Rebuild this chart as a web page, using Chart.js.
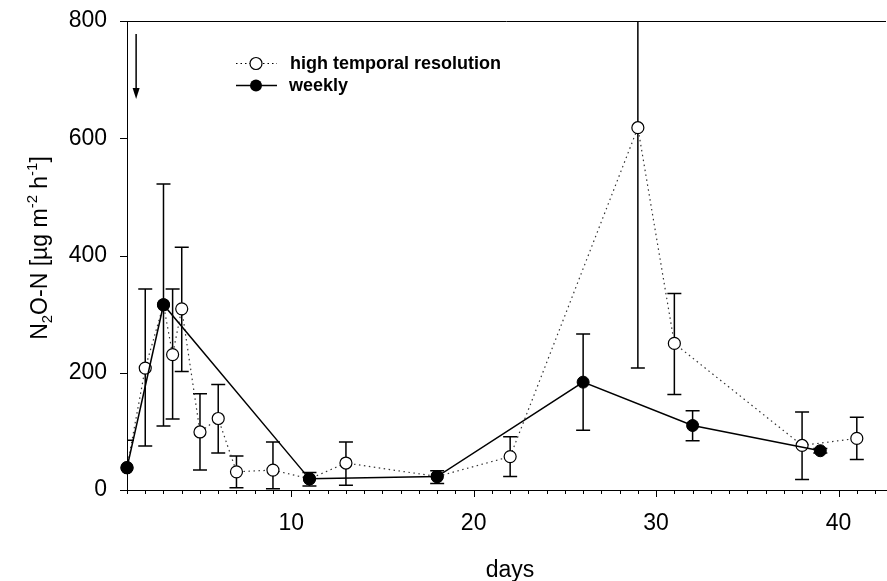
<!DOCTYPE html>
<html>
<head>
<meta charset="utf-8">
<script src="https://cdn.jsdelivr.net/npm/chart.js@4.4.1/dist/chart.umd.min.js"></script>
<style>
html, body { margin: 0; padding: 0; background: #fff; }
canvas { display: block; }
</style>
</head>
<body>
<canvas id="chart" width="887" height="581"></canvas>
<script>
// high temporal resolution (open circles); null = no own error bar
let hiDays = [1, 2, 3, 3.5, 4, 5, 6, 7, 9, 11, 13, 18, 22, 29, 31, 38, 41];
let hiVals = [38, 208, 316, 231, 309, 99, 122, 31, 34, 19, 46, 23, 57, 618, 250, 76, 88];
let hiHigh = [null, 343, null, 343, 414, 164, 180, 58, 82, null, 82, null, 91, 1030, 335, 133, 124];
let hiLow = [null, 75, null, 121, 202, 34, 63, 4, 2, null, 8, null, 23, 208, 163, 18, 52];

// weekly (filled circles)
let weekDays = [1, 3, 11, 18, 26, 32, 39];
let weekVals = [38, 316, 19, 23, 184, 110, 67];
let weekHigh = [85, 522, 30, 33, 266, 135, 71];
let weekLow = [-9, 109, 7, 11, 102, 84, 63];

let yTicks = [0, 200, 400, 600, 800];
let xLabels = [10, 20, 30, 40];

// arrow marking day 1.5
let arrowDay = 1.5;
let arrowFrom = 778;
let arrowTo = 667;

const FONT = '"Liberation Sans", Arial, sans-serif';

function toPoints(xs, ys){
    return xs.map((x, i) => ({x: x, y: ys[i]}));
}

function drawErrors(ctx, x, y, days, high, low){
    for(let i = 0; i < days.length; i++){
        if(high[i] === null) continue;
        let px = x.getPixelForValue(days[i]);
        let top = y.getPixelForValue(high[i]);
        let bot = y.getPixelForValue(low[i]);
        ctx.beginPath();
        ctx.moveTo(px, top); ctx.lineTo(px, bot);
        ctx.moveTo(px - 7, top); ctx.lineTo(px + 7, top);
        ctx.moveTo(px - 7, bot); ctx.lineTo(px + 7, bot);
        ctx.stroke();
    }
}

function richWidth(ctx, parts, size){
    let w = 0;
    parts.forEach(p => {
        ctx.font = (p[1] === 0 ? size : size * 0.65) + 'px ' + FONT;
        w += ctx.measureText(p[0]).width;
    });
    return w;
}

function drawRich(ctx, parts, x, y, size){
    let pos = x;
    parts.forEach(p => {
        let fs = p[1] === 0 ? size : size * 0.65;
        ctx.font = fs + 'px ' + FONT;
        let dy = p[1] === 1 ? -size * 0.4 : (p[1] === -1 ? size * 0.25 : 0);
        ctx.fillText(p[0], pos, y + dy);
        pos += ctx.measureText(p[0]).width;
    });
}

const errorBars = {
    id: 'errorBars',
    beforeDatasetsDraw(chart){
        const {ctx, chartArea, scales} = chart;
        ctx.save();
        ctx.beginPath();
        ctx.rect(chartArea.left, chartArea.top, chartArea.right - chartArea.left, chartArea.bottom - chartArea.top);
        ctx.clip();
        ctx.strokeStyle = '#000';
        ctx.lineWidth = 1.5;
        drawErrors(ctx, scales.x, scales.y, hiDays, hiHigh, hiLow);
        drawErrors(ctx, scales.x, scales.y, weekDays, weekHigh, weekLow);
        ctx.restore();
    }
};

const decorations = {
    id: 'decorations',
    afterDraw(chart){
        const {ctx, chartArea, scales} = chart;
        let x = scales.x, y = scales.y;
        ctx.save();
        ctx.strokeStyle = '#000';
        ctx.fillStyle = '#000';
        ctx.lineWidth = 1;

        // top frame line
        ctx.beginPath();
        ctx.moveTo(chartArea.left, chartArea.top + 0.5);
        ctx.lineTo(chartArea.right, chartArea.top + 0.5);
        ctx.stroke();

        // x ticks, every day, longer at labelled ones
        ctx.beginPath();
        for(let d = 1; d <= 42; d++){
            let px = Math.round(x.getPixelForValue(d)) + 0.5;
            let len = xLabels.includes(d) ? 7 : 4;
            ctx.moveTo(px, chartArea.bottom);
            ctx.lineTo(px, chartArea.bottom + len);
        }
        // y ticks
        yTicks.forEach(v => {
            let py = Math.round(y.getPixelForValue(v)) + 0.5;
            ctx.moveTo(chartArea.left - 7, py);
            ctx.lineTo(chartArea.left, py);
        });
        ctx.stroke();

        // arrow
        let ax = x.getPixelForValue(arrowDay);
        let a1 = y.getPixelForValue(arrowFrom);
        let a2 = y.getPixelForValue(arrowTo);
        ctx.lineWidth = 1.5;
        ctx.beginPath();
        ctx.moveTo(ax, a1); ctx.lineTo(ax, a2 - 8);
        ctx.stroke();
        ctx.beginPath();
        ctx.moveTo(ax - 3.5, a2 - 11);
        ctx.lineTo(ax + 3.5, a2 - 11);
        ctx.lineTo(ax, a2);
        ctx.closePath();
        ctx.fill();

        // legend
        ctx.lineWidth = 1;
        ctx.setLineDash([1.5, 3]);
        ctx.beginPath();
        ctx.moveTo(236, 63.5); ctx.lineTo(277, 63.5);
        ctx.stroke();
        ctx.setLineDash([]);
        ctx.beginPath();
        ctx.arc(256, 63.5, 6, 0, Math.PI * 2);
        ctx.fillStyle = '#fff';
        ctx.fill();
        ctx.lineWidth = 1.2;
        ctx.stroke();
        ctx.lineWidth = 1.5;
        ctx.beginPath();
        ctx.moveTo(236, 85.5); ctx.lineTo(277, 85.5);
        ctx.stroke();
        ctx.beginPath();
        ctx.arc(256, 85.5, 6, 0, Math.PI * 2);
        ctx.fillStyle = '#000';
        ctx.fill();
        ctx.font = 'bold 18px ' + FONT;
        ctx.textBaseline = 'alphabetic';
        ctx.textAlign = 'left';
        ctx.fillText('high temporal resolution', 290, 69);
        ctx.fillText('weekly', 289, 91);

        // axis titles
        ctx.font = '23px ' + FONT;
        ctx.textAlign = 'center';
        ctx.fillText('days', 510, 577);

        let yTitle = [['N', 0], ['2', -1], ['O-N [µg m', 0], ['-2', 1], [' h', 0], ['-1', 1], [']', 0]];
        ctx.textAlign = 'left';
        ctx.translate(46.5, 248);
        ctx.rotate(-Math.PI / 2);
        let w = richWidth(ctx, yTitle, 23);
        drawRich(ctx, yTitle, -w / 2, 0, 23);
        ctx.restore();
    }
};

new Chart(document.getElementById('chart'), {
    type: 'scatter',
    data: {
        datasets: [
            {
                label: 'weekly',
                data: toPoints(weekDays, weekVals),
                showLine: true,
                borderColor: '#000',
                borderWidth: 1.5,
                pointRadius: 6,
                pointBackgroundColor: '#000',
                pointBorderColor: '#000',
                pointBorderWidth: 1,
                clip: false
            },
            {
                label: 'high temporal resolution',
                data: toPoints(hiDays, hiVals),
                showLine: true,
                borderColor: '#333',
                borderWidth: 1.2,
                borderDash: [1.5, 3.5],
                pointRadius: 6,
                pointBackgroundColor: '#fff',
                pointBorderColor: '#000',
                pointBorderWidth: 1.2,
                clip: false
            }
        ]
    },
    options: {
        responsive: false,
        devicePixelRatio: 1,
        animation: false,
        layout: {autoPadding: false, padding: {top: 21, right: 1, left: 0, bottom: 0}},
        plugins: {legend: {display: false}, tooltip: {enabled: false}},
        scales: {
            x: {
                type: 'linear',
                min: 1,
                max: 42.6,
                grid: {display: false, drawTicks: false},
                border: {display: true, color: '#000', width: 1},
                ticks: {
                    stepSize: 1,
                    autoSkip: false,
                    maxRotation: 0,
                    padding: 20,
                    color: '#000',
                    font: {family: FONT, size: 23},
                    callback: v => xLabels.includes(v) ? v : ''
                },
                afterFit: s => { s.height = 91; s.paddingLeft = 0; s.paddingRight = 0; }
            },
            y: {
                min: 0,
                max: 800,
                grid: {display: false, drawTicks: false},
                border: {display: true, color: '#000', width: 1},
                ticks: {
                    stepSize: 200,
                    padding: 20,
                    color: '#000',
                    font: {family: FONT, size: 23},
                    callback: v => yTicks.includes(v) ? v : ''
                },
                afterFit: s => { s.width = 127; s.paddingTop = 0; s.paddingBottom = 0; }
            }
        }
    },
    plugins: [errorBars, decorations]
});
</script>
</body>
</html>
